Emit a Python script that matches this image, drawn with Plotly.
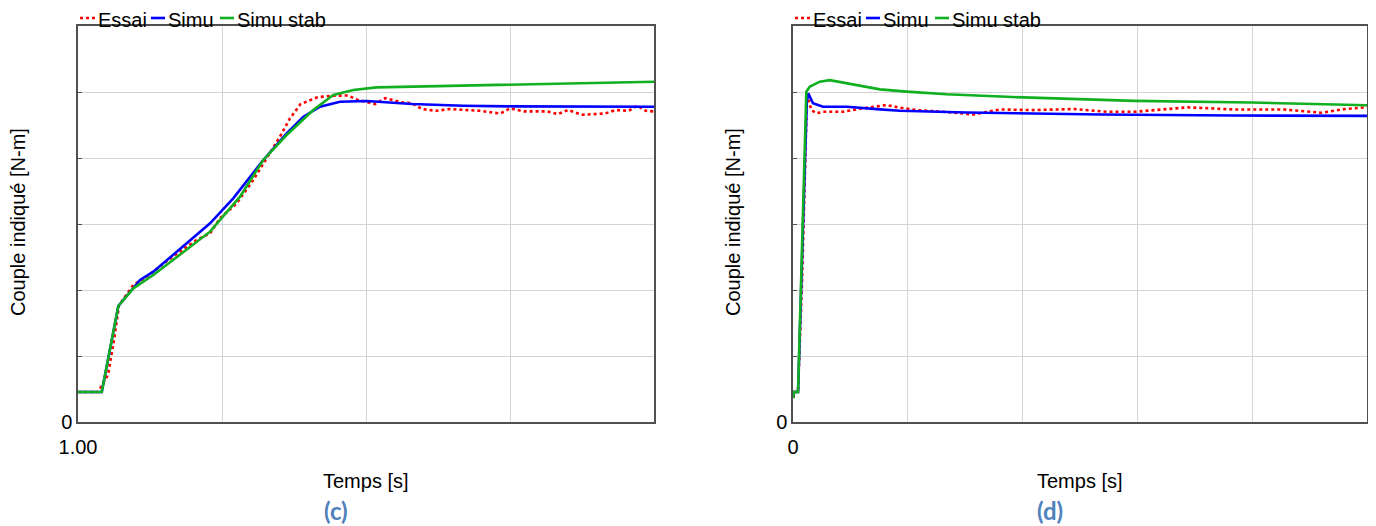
import plotly.graph_objects as go

# ---------------- data: panel (c) ----------------
c_essai_t = [1.0000, 1.0139, 1.0208, 1.0250, 1.0285, 1.0384, 1.0477, 1.0616, 1.0824, 1.0917,
             1.0986, 1.1102, 1.1217, 1.1310, 1.1405, 1.1472, 1.1546, 1.1663, 1.1773, 1.1875,
             1.1944, 1.2062, 1.2133, 1.2250, 1.2320, 1.2390, 1.2486, 1.2580, 1.2790, 1.2933,
             1.3000, 1.3097, 1.3260, 1.3332, 1.3403, 1.3497, 1.3661, 1.3731, 1.3825, 1.3884,
             1.3943, 1.4000]
c_essai_y = [0.455, 0.455, 0.712, 1.24, 1.77, 2.076, 2.2, 2.44, 2.758, 2.859,
             3.086, 3.313, 3.667, 3.995, 4.333, 4.6, 4.818, 4.921, 4.944, 4.947,
             4.879, 4.818, 4.906, 4.844, 4.83, 4.742, 4.715, 4.742, 4.715, 4.674,
             4.751, 4.706, 4.706, 4.665, 4.727, 4.655, 4.674, 4.727, 4.715, 4.792,
             4.715, 4.706]

c_simu_t = [1.0000, 1.0165, 1.0280, 1.0431, 1.0523, 1.0616, 1.0755, 1.0917, 1.1078, 1.1287,
            1.1449, 1.1565, 1.1681, 1.1819, 1.2005, 1.2320, 1.2674, 1.3030, 1.3380, 1.4000]
c_simu_y = [0.455, 0.455, 1.758, 2.152, 2.277, 2.455, 2.708, 3.011, 3.389, 3.97,
            4.374, 4.626, 4.777, 4.853, 4.864, 4.818, 4.792, 4.782, 4.78, 4.777]

c_stab_t = [1.0000, 1.0165, 1.0280, 1.0384, 1.0523, 1.0708, 1.0917, 1.1125, 1.1287, 1.1449,
            1.1634, 1.1773, 1.1912, 1.2074, 1.2439, 1.3026, 1.3497, 1.4000]
c_stab_y = [0.455, 0.455, 1.758, 2.025, 2.227, 2.53, 2.884, 3.414, 3.97, 4.348,
            4.727, 4.955, 5.03, 5.07, 5.085, 5.111, 5.126, 5.156]

# ---------------- data: panel (d) ----------------
d_essai_t = [0.0, 0.009, 0.044, 0.080, 0.122, 0.160, 0.203, 0.261, 0.322, 0.436,
             0.612, 0.816, 0.932, 1.078, 1.311, 1.573, 1.690, 1.806, 2.097, 2.447,
             2.739, 2.971, 3.263, 3.437, 3.845, 4.282, 4.603, 4.807, 5.0]
d_essai_y = [0.364, 0.455, 0.455, 2.2, 4.955, 4.727, 4.677, 4.7, 4.7, 4.7,
             4.753, 4.803, 4.761, 4.726, 4.7, 4.659, 4.7, 4.735, 4.726, 4.742,
             4.7, 4.7, 4.742, 4.768, 4.735, 4.735, 4.685, 4.742, 4.768]

d_simu_t = [0.0, 0.009, 0.044, 0.120, 0.133, 0.174, 0.261, 0.468, 0.758, 0.932,
            1.515, 2.680, 3.845, 5.0]
d_simu_y = [0.364, 0.455, 0.455, 4.85, 4.98, 4.83, 4.777, 4.777, 4.737, 4.715,
            4.689, 4.659, 4.644, 4.639]

d_stab_t = [0.0, 0.009, 0.044, 0.116, 0.145, 0.233, 0.320, 0.436, 0.612, 0.758,
            0.990, 1.339, 2.010, 2.970, 3.990, 5.0]
d_stab_y = [0.364, 0.455, 0.455, 5.005, 5.08, 5.156, 5.18, 5.141, 5.08, 5.04,
            5.005, 4.965, 4.918, 4.866, 4.84, 4.8]

series_names = ["Essai", "Simu", "Simu stab"]
series_colors = ["#ff0000", "#0000ff", "#10b020"]
series_dash = ["dot", "solid", "solid"]
panel_labels = ["(c)", "(d)"]
x_title = "Temps [s]"
y_title = "Couple indiqué [N-m]"
y_ticks = [0, 1, 2, 3, 4, 5, 6]
y_ticktext = ["0", "", "", "", "", "", ""]
c_x_ticks = [1.0, 1.1, 1.2, 1.3, 1.4]
c_x_ticktext = ["1.00", "", "", "", ""]
d_x_ticks = [0, 1, 2, 3, 4, 5]
d_x_ticktext = ["0", "", "", "", "", ""]

# The page body has an 8px margin; the figure is sized so it fills the window.
OFF = 8
W, H = 1376 - OFF, 526 - OFF
FONT = "Liberation Sans, Arial, sans-serif"

fig = go.Figure()

panels = [
    ("x", "y", [(c_essai_t, c_essai_y), (c_simu_t, c_simu_y), (c_stab_t, c_stab_y)]),
    ("x2", "y2", [(d_essai_t, d_essai_y), (d_simu_t, d_simu_y), (d_stab_t, d_stab_y)]),
]
for xa, ya, data in panels:
    for i, (tx, ty) in enumerate(data):
        fig.add_trace(go.Scatter(
            x=tx, y=ty, mode="lines", name=series_names[i], showlegend=False,
            line=dict(color=series_colors[i], width=2.6, dash=series_dash[i]),
            xaxis=xa, yaxis=ya,
        ))

def px_x(p):
    return (p - OFF) / W

def px_y(p):
    return 1 - (p - OFF) / H

left_px = [78, 793]
right_px = [654, 1367]
top_px, bot_px = 26, 422

axis_common = dict(
    showline=True, mirror=True, linecolor="#505050", linewidth=1.5,
    showgrid=True, gridcolor="#d4d4d4", gridwidth=1, zeroline=False,
    automargin=False,
    tickfont=dict(family=FONT, size=20, color="#000"),
)

fig.update_layout(
    width=W, height=H,
    margin=dict(l=0, r=0, t=0, b=0, pad=0, autoexpand=False),
    paper_bgcolor="white", plot_bgcolor="white",
    showlegend=False,
    xaxis=dict(domain=[px_x(left_px[0]), px_x(right_px[0])], range=[1.0, 1.4],
               tickvals=c_x_ticks, ticktext=c_x_ticktext, ticks="", ticklabelstandoff=6,
               anchor="y", **axis_common),
    yaxis=dict(domain=[px_y(bot_px), px_y(top_px)], range=[0, 6],
               tickvals=y_ticks, ticktext=y_ticktext, ticks="inside", ticklen=4,
               tickcolor="#505050", anchor="x", **axis_common),
    xaxis2=dict(domain=[px_x(left_px[1]), px_x(right_px[1])], range=[0, 5],
                tickvals=d_x_ticks, ticktext=d_x_ticktext, ticks="", ticklabelstandoff=6,
                anchor="y2", **axis_common),
    yaxis2=dict(domain=[px_y(bot_px), px_y(top_px)], range=[0, 6],
                tickvals=y_ticks, ticktext=y_ticktext, ticks="inside", ticklen=4,
                tickcolor="#505050", anchor="x2", **axis_common),
)

annotations = []
shapes = []
for k in range(2):
    base = left_px[k]
    center_x = (left_px[k] + right_px[k]) / 2
    # axis titles
    annotations.append(dict(text=x_title, x=px_x(center_x), y=px_y(481), xref="paper", yref="paper",
                            showarrow=False, xanchor="center", yanchor="middle",
                            font=dict(family=FONT, size=20, color="#000")))
    annotations.append(dict(text=y_title, x=px_x(base - 60), y=px_y(222), xref="paper", yref="paper",
                            showarrow=False, xanchor="center", yanchor="middle", textangle=-90,
                            font=dict(family=FONT, size=20, color="#000")))
    # panel label
    lab_x = 336 if k == 0 else 1050
    annotations.append(dict(text="<b>%s</b>" % panel_labels[k], x=px_x(lab_x), y=px_y(510),
                            xref="paper", yref="paper", showarrow=False,
                            xanchor="center", yanchor="middle",
                            font=dict(family="Lato, Carlito, sans-serif", size=24, color="#4F81BD")))
    # legend (manual, compact)
    sym = [(2, 17), (73, 87), (142, 156)]
    txt = [19, 89, 158]
    for i in range(3):
        shapes.append(dict(type="line", xref="paper", yref="paper",
                           x0=px_x(base + sym[i][0]), x1=px_x(base + sym[i][1]),
                           y0=px_y(18), y1=px_y(18),
                           line=dict(color=series_colors[i], width=2.6, dash=series_dash[i])))
        annotations.append(dict(text=series_names[i], x=px_x(base + txt[i]), y=px_y(8),
                                xref="paper", yref="paper", showarrow=False,
                                xanchor="left", yanchor="top", borderpad=0,
                                font=dict(family=FONT, size=20, color="#000")))

fig.update_layout(annotations=annotations, shapes=shapes)

fig.write_html("out.html")
